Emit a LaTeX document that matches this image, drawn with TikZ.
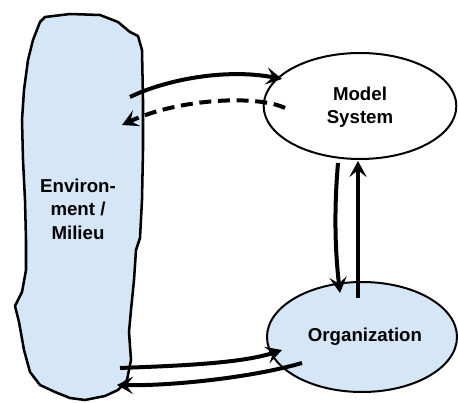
\documentclass[tikz,border=0pt]{standalone}
\usepackage{fontspec}
\setmainfont{Liberation Sans}
\usetikzlibrary{shapes.geometric,arrows.meta}
\definecolor{envblue}{RGB}{213,230,246}
\tikzset{
  lbl/.style={font=\bfseries\fontsize{14}{17.5}\selectfont, align=center},
  oval/.style={ellipse, draw=black, line width=1.5pt, inner sep=0pt},
  conn/.style={line width=3pt, -{Stealth[length=12pt,width=13pt,inset=5pt]}},
  dconn/.style={conn, dash pattern=on 9pt off 5pt},
}
\begin{document}
\begin{tikzpicture}[x=0.75pt,y=-0.75pt]
\useasboundingbox (0,0) rectangle (458,403);
% environment blob
\draw[fill=envblue, line width=1.9pt, line join=round]
 (40,22) -- (45,17) -- (70,14) -- (100,15) -- (118,22) -- (130,32) -- (138,36)
 -- (142,50) -- (143,100) -- (143,150) -- (142,200) -- (140,238) -- (136,250)
 -- (134,280) -- (131,310) -- (129,332) -- (131,360) -- (127,380) -- (118,390)
 -- (105,396) -- (85,400) -- (70,398) -- (55,392) -- (40,385) -- (30,372)
 -- (24,350) -- (19,322) -- (15,306) -- (22,292) -- (26,270) -- (26,240)
 -- (25,200) -- (23,160) -- (22,120) -- (24,90) -- (28,60) -- (33,40) -- cycle;
\node[lbl] (env) at (78,209) {Environ-\\ment /\\Milieu};
\node[oval, fill=white, minimum width=144.5pt, minimum height=79.5pt] (ms) at (360,106) {};
\node[lbl] (mstext) at (360,107) {Model\\System};
\node[oval, fill=envblue, minimum width=142.5pt, minimum height=82.5pt] (org) at (362,337) {};
\node[lbl] (orgtext) at (365,337) {Organization};
% connector end points
\coordinate (e1) at (130,97);
\coordinate (m1) at (282,79);
\coordinate (m2) at (285,108);
\coordinate (e2) at (122,125);
\coordinate (m3) at (338,163);
\coordinate (o3) at (340,293);
\coordinate (o4) at (358,298);
\coordinate (m4) at (358,161);
\coordinate (e5) at (120,368);
\coordinate (o5) at (282,350);
\coordinate (o6) at (302,363);
\coordinate (e6) at (117,385);
\draw[conn] (e1) .. controls (165,80) and (225,68) .. (m1);
\draw[dconn] (m2) .. controls (258,95) and (180,98) .. (e2);
\draw[conn] (m3) .. controls (334,210) and (335,250) .. (o3);
\draw[conn] (o4) -- (m4);
\draw[conn] (e5) .. controls (170,366) and (240,364) .. (o5);
\draw[conn] (o6) .. controls (250,378) and (170,386) .. (e6);
\end{tikzpicture}
\end{document}
